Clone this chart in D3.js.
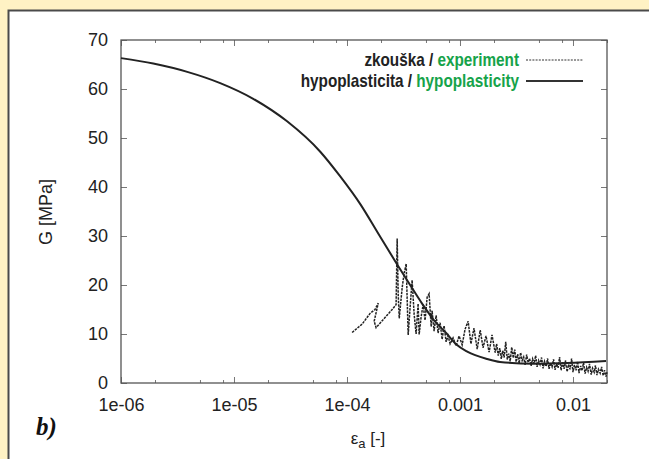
<!DOCTYPE html>
<html>
<head>
<meta charset="utf-8">
<script src="https://cdn.jsdelivr.net/npm/d3@7"></script>
<style>
  body { margin: 0; background: #fff2c4; }
  #canvas-div { width: 649px; height: 459px; }
  .tick text { font-family: "Liberation Sans", Arial, sans-serif; fill: #222; }
</style>
</head>
<body>
<div id="canvas-div"></div>
<script>
// axis ticks
const strainTicks = [1e-6, 1e-5, 1e-4, 1e-3, 1e-2];
const strainTickLabels = ["1e-06", "1e-05", "1e-04", "0.001", "0.01"];
const gTicks = [0, 10, 20, 30, 40, 50, 60, 70];

// hypoplasticity model curve (strain [-], G [MPa])
const hypoStrain = [1e-6, 1.93e-6, 3.86e-6, 7.55e-6, 1.48e-5, 2.95e-5, 5.8e-5, 8.75e-5, 1.32e-4, 1.89e-4,
    2.78e-4, 3.62e-4, 4.62e-4, 5.90e-4, 7.54e-4, 9.24e-4, 1.16e-3, 1.74e-3, 2.26e-3, 4.44e-3, 8.87e-3, 1.96e-2];
const hypoG = [66.3, 65.2, 63.5, 61.2, 58.0, 53.4, 47.2, 42.1, 36.4, 30.5,
    24.2, 20.0, 16.2, 12.8, 10.2, 7.9, 6.4, 4.9, 4.3, 3.95, 4.1, 4.5];

// experiment (measured trace)
const expStrain = [1.11e-4, 1.36e-4, 1.60e-4, 1.77e-4, 1.89e-4, 1.74e-4, 1.81e-4, 2.18e-4, 2.51e-4, 2.72e-4,
    2.78e-4, 2.84e-4, 2.90e-4, 3.08e-4, 3.21e-4, 3.34e-4, 3.48e-4, 3.62e-4, 3.77e-4, 3.93e-4,
    4.09e-4, 4.26e-4, 4.35e-4, 4.53e-4, 4.72e-4, 4.91e-4, 5.12e-4, 5.33e-4, 5.56e-4, 5.66e-4,
    5.90e-4, 6.15e-4, 6.40e-4, 6.67e-4, 6.95e-4, 7.23e-4, 7.54e-4, 7.85e-4, 8.18e-4, 8.69e-4,
    9.24e-4, 9.82e-4, 1.045e-3, 1.11e-3, 1.18e-3, 1.25e-3, 1.33e-3, 1.42e-3, 1.51e-3, 1.60e-3,
    1.70e-3, 1.81e-3, 1.92e-3,
    2.05e-3, 2.11e-3, 2.18e-3, 2.25e-3, 2.32e-3, 2.39e-3, 2.46e-3, 2.54e-3, 2.62e-3, 2.70e-3,
    2.78e-3, 2.87e-3, 2.96e-3, 3.05e-3, 3.14e-3, 3.24e-3, 3.34e-3, 3.44e-3, 3.55e-3, 3.66e-3,
    3.77e-3, 3.89e-3, 4.01e-3, 4.13e-3, 4.26e-3, 4.39e-3, 4.53e-3, 4.67e-3, 4.81e-3, 4.96e-3,
    5.11e-3, 5.27e-3, 5.44e-3, 5.60e-3, 5.78e-3, 5.96e-3, 6.14e-3, 6.33e-3, 6.53e-3, 6.73e-3,
    6.94e-3, 7.16e-3, 7.38e-3, 7.61e-3, 7.85e-3, 8.09e-3, 8.34e-3, 8.60e-3, 8.87e-3, 9.14e-3,
    9.42e-3, 9.72e-3, 1.00e-2, 1.03e-2, 1.065e-2, 1.098e-2, 1.13e-2, 1.17e-2, 1.20e-2, 1.24e-2,
    1.28e-2, 1.32e-2, 1.36e-2, 1.40e-2, 1.45e-2, 1.49e-2, 1.54e-2, 1.58e-2, 1.63e-2, 1.68e-2,
    1.74e-2, 1.79e-2, 1.85e-2, 1.90e-2, 1.96e-2, 2.0e-2];
const expG = [10.3, 12.0, 14.2, 15.0, 16.3, 12.6, 11.3, 13.4, 15.0, 16.0,
    29.5, 18.0, 13.2, 19.5, 22.5, 24.3, 9.8, 15.5, 21.0, 14.0,
    10.0, 16.2, 9.9, 13.5, 16.0, 12.8, 17.5, 18.2, 11.5, 14.8,
    10.6, 13.8, 10.2, 12.3, 8.9, 11.7, 8.4, 9.6, 8.0, 9.2,
    7.6, 9.6, 7.8, 11.0, 12.6, 8.0, 11.2, 6.9, 10.8, 7.2,
    9.6, 6.3, 9.8,
    6.2, 8.0, 5.6, 7.1, 4.9, 6.6, 5.2, 8.4, 4.8, 6.0,
    4.4, 7.3, 5.1, 6.8, 4.3, 5.9, 4.0, 6.2, 4.6, 5.3,
    3.7, 5.8, 4.2, 5.0, 3.5, 4.9, 3.9, 5.6, 3.3, 4.6,
    3.8, 5.2, 3.0, 4.4, 3.4, 5.0, 2.9, 4.1, 3.3, 4.8,
    2.7, 3.9, 3.1, 5.3, 2.6, 4.2, 2.9, 4.6, 2.3, 3.8,
    2.8, 5.0, 2.2, 3.7, 2.6, 4.4, 2.0, 3.5, 2.5, 4.1,
    1.9, 3.2, 2.4, 3.9, 1.7, 3.0, 2.2, 3.6, 1.6, 2.8,
    2.0, 3.3, 1.5, 2.6, 1.3, 2.2];

const padding = {
    left: 121,
    right: 42,
    top: 40,
    bottom: 76
};

const svgWidth = 649;
const svgHeight = 459;

const svg = d3.select("#canvas-div")
    .append("svg")
    .attr("width", svgWidth)
    .attr("height", svgHeight);

// panel
svg.append("rect")
    .attr("x", 8.5)
    .attr("y", 10.5)
    .attr("width", svgWidth)
    .attr("height", svgHeight)
    .attr("fill", "#ffffff")
    .attr("stroke", "#4a4a4a")
    .attr("stroke-width", 2);

const xScale = d3.scaleLog()
    .domain([1e-6, 0.02])
    .range([padding.left, svgWidth - padding.right]);

const yScale = d3.scaleLinear()
    .domain([0, 70])
    .range([svgHeight - padding.bottom, padding.top]);

const minorTicks = [];
strainTicks.forEach(t => [2, 5, 8].forEach(m => { if (t * m <= 0.02) minorTicks.push(t * m); }));

const plotBottom = svgHeight - padding.bottom;
const plotRight = svgWidth - padding.right;

//x axes (bottom with labels, top mirrored)
svg.append("g")
    .attr("class", "axis x-axis")
    .attr("transform", "translate(0," + plotBottom + ")")
    .call(d3.axisBottom(xScale)
        .tickValues(strainTicks)
        .tickSize(-6)
        .tickPadding(15)
        .tickFormat((d, i) => strainTickLabels[i]));

svg.append("g")
    .attr("class", "axis x-minor")
    .attr("transform", "translate(0," + plotBottom + ")")
    .call(d3.axisBottom(xScale).tickValues(minorTicks).tickSize(-3).tickFormat(""));

svg.append("g")
    .attr("class", "axis x-top")
    .attr("transform", "translate(0," + padding.top + ")")
    .call(d3.axisTop(xScale).tickValues(strainTicks).tickSize(-6).tickFormat(""));

svg.append("g")
    .attr("class", "axis x-top-minor")
    .attr("transform", "translate(0," + padding.top + ")")
    .call(d3.axisTop(xScale).tickValues(minorTicks).tickSize(-3).tickFormat(""));

//y axes
svg.append("g")
    .attr("class", "axis y-axis")
    .attr("transform", "translate(" + padding.left + ",0)")
    .call(d3.axisLeft(yScale).tickValues(gTicks).tickSize(-6).tickPadding(13));

svg.append("g")
    .attr("class", "axis y-right")
    .attr("transform", "translate(" + plotRight + ",0)")
    .call(d3.axisRight(yScale).tickValues(gTicks).tickSize(-6).tickFormat(""));

svg.selectAll(".axis .domain").remove();
svg.selectAll(".axis .tick line").attr("stroke", "#777");
svg.selectAll(".axis .tick text").style("font-size", "18px");

// frame
svg.append("rect")
    .attr("x", padding.left)
    .attr("y", padding.top)
    .attr("width", plotRight - padding.left)
    .attr("height", plotBottom - padding.top)
    .attr("fill", "none")
    .attr("stroke", "#555")
    .attr("stroke-width", 1.3);

//experiment line
const expData = expStrain.map((s, i) => ({ s: s, g: expG[i] }));
svg.append("path")
    .datum(expData)
    .attr("d", d3.line().x(d => xScale(d.s)).y(d => yScale(d.g)))
    .attr("fill", "none")
    .attr("stroke", "#222")
    .attr("stroke-width", 1.5)
    .attr("stroke-dasharray", "2.5,1");

//hypoplasticity line
const hypoData = hypoStrain.map((s, i) => ({ s: s, g: hypoG[i] }));
svg.append("path")
    .datum(hypoData)
    .attr("d", d3.line().curve(d3.curveMonotoneX).x(d => xScale(d.s)).y(d => yScale(d.g)))
    .attr("fill", "none")
    .attr("stroke", "#222")
    .attr("stroke-width", 2);

//legend (condensed bold text, squeezed horizontally)
const legend = [
    { cz: "zkouška / ", en: "experiment", y: 66, dash: "2,1.2", w: 1.2 },
    { cz: "hypoplasticita / ", en: "hypoplasticity", y: 87, dash: null, w: 2 }
];

legend.forEach(item => {
    const t = svg.append("text")
        .attr("transform", "translate(519," + item.y + ") scale(0.85,1)")
        .attr("text-anchor", "end")
        .style("font-family", "'Liberation Sans', Arial, sans-serif")
        .style("font-weight", "bold")
        .style("font-size", "18px")
        .attr("fill", "#222");
    t.append("tspan").text(item.cz);
    t.append("tspan").attr("fill", "#16a34a").text(item.en);

    svg.append("line")
        .attr("x1", 526)
        .attr("x2", 583)
        .attr("y1", item.y - 6)
        .attr("y2", item.y - 6)
        .attr("stroke", "#333")
        .attr("stroke-width", item.w)
        .attr("stroke-dasharray", item.dash);
});

//axis titles
svg.append("text")
    .attr("transform", "translate(52,212) rotate(-90)")
    .attr("text-anchor", "middle")
    .style("font-family", "'Liberation Sans', Arial, sans-serif")
    .style("font-size", "18px")
    .attr("fill", "#222")
    .text("G [MPa]");

const xTitle = svg.append("text")
    .attr("x", 368)
    .attr("y", 444)
    .attr("text-anchor", "middle")
    .style("font-family", "'Liberation Sans', Arial, sans-serif")
    .style("font-size", "17px")
    .attr("fill", "#222");
xTitle.append("tspan").text("ε");
xTitle.append("tspan").attr("dy", 4).style("font-size", "13px").text("a");
xTitle.append("tspan").attr("dy", -4).text(" [-]");

svg.append("text")
    .attr("x", 36)
    .attr("y", 435)
    .style("font-family", "'Liberation Serif', 'Times New Roman', serif")
    .style("font-weight", "bold")
    .style("font-style", "italic")
    .style("font-size", "25px")
    .attr("fill", "#111")
    .text("b)");
</script>
</body>
</html>
